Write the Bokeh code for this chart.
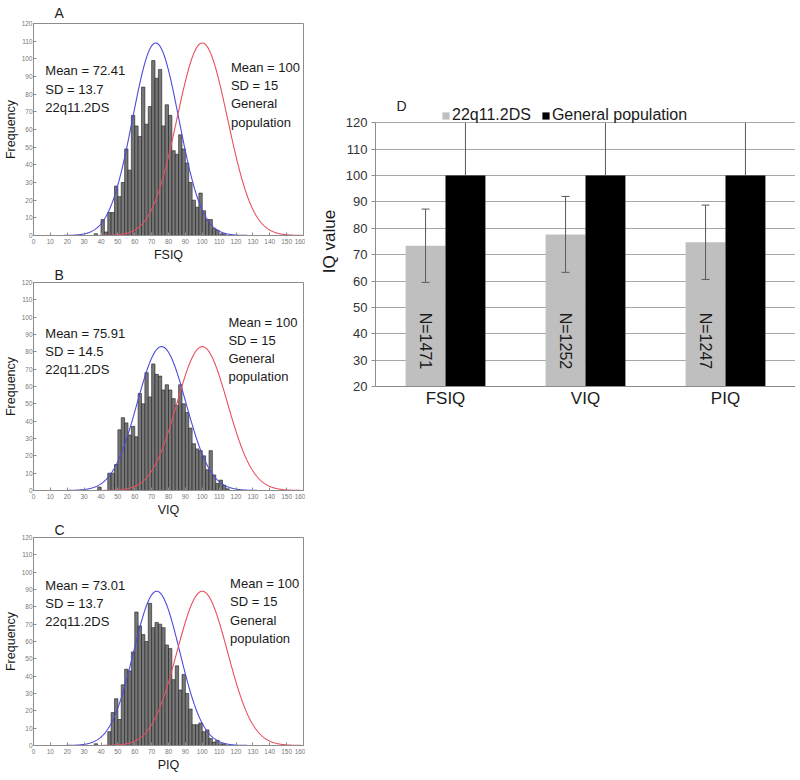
import math
import numpy as np
from bokeh.plotting import figure
from bokeh.layouts import row, column
from bokeh.models import Range1d, FactorRange, Label, Legend, LegendItem, FixedTicker, ColumnDataSource
from bokeh.embed import file_html
from bokeh.resources import INLINE
from bokeh.core.properties import value

FONT = "Liberation Sans"

# ---------------- histogram data (bins of width 2) ----------------
bin_width = 2
bin_starts = [34, 36, 38, 40, 42, 44, 46, 48, 50, 52, 54, 56, 58, 60, 62, 64, 66, 68, 70, 72,
              74, 76, 78, 80, 82, 84, 86, 88, 90, 92, 94, 96, 98, 100, 102, 104, 106, 108, 110, 112, 114]
fsiq_counts = [0, 1, 0, 9, 2, 13, 13, 28, 22, 30, 49, 37, 68, 62, 56, 84, 63, 73, 99, 89,
               94, 62, 74, 68, 48, 46, 57, 49, 41, 30, 20, 16, 24, 14, 9, 9, 4, 3, 1, 1, 0]
viq_counts = [0, 0, 2, 0, 0, 10, 10, 15, 35, 42, 39, 32, 37, 31, 56, 50, 68, 54, 73, 67,
              66, 58, 61, 58, 53, 49, 61, 50, 45, 36, 27, 24, 23, 20, 12, 23, 9, 4, 6, 3, 1]
piq_counts = [0, 1, 0, 0, 0, 8, 19, 27, 15, 35, 44, 43, 54, 77, 69, 64, 60, 82, 68, 71,
              70, 68, 58, 56, 38, 46, 32, 41, 30, 21, 12, 12, 13, 8, 9, 4, 2, 3, 1, 1, 0]

panel_letters = ["A", "B", "C"]
panel_xlabels = ["FSIQ", "VIQ", "PIQ"]
ds_means_hist = [72.41, 75.91, 73.01]
ds_sds_hist = [13.7, 14.5, 13.7]
curve_peaks = [109, 83, 89]
gen_mean = 100
gen_sd = 15
left_texts = ["Mean = 72.41\nSD = 13.7\n22q11.2DS",
              "Mean = 75.91\nSD = 14.5\n22q11.2DS",
              "Mean = 73.01\nSD = 13.7\n22q11.2DS"]
right_text = "Mean = 100\nSD = 15\nGeneral\npopulation"

hist_xticks = list(range(0, 161, 10))
hist_yticks = list(range(0, 121, 10))

# ---------------- bar chart data (panel D) ----------------
cats = ["FSIQ", "VIQ", "PIQ"]
ds_bar_means = [73.4, 77.7, 74.7]
ds_bar_err = [13.9, 14.4, 14.1]
gen_bar_means = [100, 100, 100]
gen_bar_err = [20, 20, 20]
n_labels = ["N=1471", "N=1252", "N=1247"]
d_yticks = list(range(20, 121, 10))
d_axis_min, d_axis_max = 20, 120

BLUE = "#4b4bdc"
RED = "#e8505e"
AXIS_GREY = "#8c8c8c"


def make_hist(i, top_border, title_standoff, bottom_border, frame_h, left_pos, right_pos):
    p = figure(frame_width=270, frame_height=frame_h,
               min_border_left=28, min_border_right=2,
               min_border_top=top_border, min_border_bottom=bottom_border,
               x_range=Range1d(0, 160), y_range=Range1d(0, 120),
               output_backend="svg", toolbar_location=None, title=panel_letters[i])
    p.title.text_font = FONT
    p.title.text_font_size = "14px"
    p.title.text_font_style = "normal"
    p.title.text_color = "#222222"
    p.title.align = "left"
    p.title.offset = 21
    p.title.standoff = title_standoff
    p.grid.visible = False
    p.outline_line_color = AXIS_GREY
    p.background_fill_color = "white"
    p.border_fill_color = "white"
    for ax in (p.xaxis[0], p.yaxis[0]):
        ax.axis_line_color = AXIS_GREY
        ax.major_tick_line_color = AXIS_GREY
        ax.major_tick_in = 3
        ax.major_tick_out = 0
        ax.minor_tick_line_color = None
        ax.major_label_text_font = FONT
        ax.major_label_text_font_size = "6.5px"
        ax.major_label_text_color = "#777777"
        ax.major_label_standoff = 1
        ax.axis_label_text_font = FONT
        ax.axis_label_text_font_style = "normal"
        ax.axis_label_text_font_size = "12.5px"
        ax.axis_label_text_color = "#1a1a1a"
        ax.axis_label_standoff = 1
    p.xaxis.major_label_standoff = 3
    p.xaxis.ticker = FixedTicker(ticks=hist_xticks)
    p.yaxis.ticker = FixedTicker(ticks=hist_yticks)
    p.xaxis.axis_label = panel_xlabels[i]
    p.yaxis.axis_label = "Frequency"

    counts = [fsiq_counts, viq_counts, piq_counts][i]
    rights = [b + bin_width for b in bin_starts]
    p.quad(left=bin_starts, right=rights, bottom=0, top=counts,
           fill_color="#777777", line_color="#1e1e1e", line_width=0.6)

    xs = np.linspace(0, 160, 641)
    m, s, pk = ds_means_hist[i], ds_sds_hist[i], curve_peaks[i]
    p.line(xs, pk * np.exp(-0.5 * ((xs - m) / s) ** 2), line_color=BLUE, line_width=1.1)
    p.line(xs, pk * np.exp(-0.5 * ((xs - gen_mean) / gen_sd) ** 2), line_color=RED, line_width=1.1)

    for txt, (tx, ty) in ((left_texts[i], left_pos), (right_text, right_pos)):
        p.add_layout(Label(x=tx, y=ty, text=txt, text_align="left", text_baseline="top",
                           text_font=FONT, text_font_size="13px", text_color="#1a1a1a",
                           text_line_height=1.22))
    return p


pA = make_hist(0, 22, 5, 26, 212, (7, 97.5), (117, 99.5))
pB = make_hist(1, 17, 0, 26, 208, (7, 95), (115.5, 101.5))
pC = make_hist(2, 17, 0, 24, 208, (7, 96.8), (116.5, 97.8))

# ---------------- panel D ----------------
bar_w = 0.285
src = ColumnDataSource(dict(
    x_ds=[(c, -bar_w / 2) for c in cats],
    x_gen=[(c, bar_w / 2) for c in cats],
    ds_mean=ds_bar_means,
    gen_mean=gen_bar_means,
    ds_up=[m + e for m, e in zip(ds_bar_means, ds_bar_err)],
    ds_lo=[m - e for m, e in zip(ds_bar_means, ds_bar_err)],
    gen_up=[m + e for m, e in zip(gen_bar_means, gen_bar_err)],
    nlab=n_labels,
))

# the frame reaches a little above the 120 line so that the legend and panel letter sit inside it
pD = figure(frame_width=420, frame_height=290,
            min_border_left=70, min_border_right=0, min_border_top=96, min_border_bottom=30,
            x_range=FactorRange(factors=cats, range_padding=0), y_range=Range1d(d_axis_min, 130),
            output_backend="svg", toolbar_location=None)
pD.outline_line_color = None
pD.xgrid.visible = False
pD.ygrid.grid_line_color = "#a6a6a6"
pD.ygrid.grid_line_width = 1
pD.yaxis.ticker = FixedTicker(ticks=d_yticks)
pD.yaxis.bounds = (d_axis_min, d_axis_max)
pD.yaxis.axis_label = "IQ value"
pD.yaxis.axis_line_color = AXIS_GREY
pD.yaxis.major_tick_line_color = AXIS_GREY
pD.yaxis.major_tick_out = 4
pD.yaxis.major_tick_in = 0
pD.yaxis.minor_tick_line_color = None
pD.yaxis.major_label_text_font = FONT
pD.yaxis.major_label_text_font_size = "13px"
pD.yaxis.major_label_text_color = "#333333"
pD.yaxis.major_label_standoff = 4
pD.yaxis.axis_label_text_font = FONT
pD.yaxis.axis_label_text_font_style = "normal"
pD.yaxis.axis_label_text_font_size = "17px"
pD.yaxis.axis_label_text_color = "#1a1a1a"
pD.yaxis.axis_label_standoff = 4
pD.xaxis.axis_line_color = AXIS_GREY
pD.xaxis.major_tick_line_color = None
pD.xaxis.major_tick_out = 0
pD.xaxis.major_tick_in = 0
pD.xaxis.major_label_text_font = FONT
pD.xaxis.major_label_text_font_size = "17px"
pD.xaxis.major_label_text_color = "#1a1a1a"
pD.xaxis.major_label_standoff = 2

r_ds = pD.vbar(x="x_ds", top="ds_mean", bottom=0, width=bar_w, source=src,
               fill_color="#bfbfbf", line_color=None)
r_gen = pD.vbar(x="x_gen", top="gen_mean", bottom=0, width=bar_w, source=src,
                fill_color="#000000", line_color=None)

EB = "#5a5a5a"
pD.segment(x0="x_ds", x1="x_ds", y0="ds_lo", y1="ds_up", source=src, line_color=EB, line_width=1)
pD.scatter(x="x_ds", y="ds_up", source=src, marker="dash", size=8, line_color=EB, line_width=1)
pD.scatter(x="x_ds", y="ds_lo", source=src, marker="dash", size=8, line_color=EB, line_width=1)
pD.segment(x0="x_gen", x1="x_gen", y0="gen_mean", y1="gen_up", source=src, line_color=EB, line_width=1)

pD.text(x="x_ds", y=48, text="nlab", source=src, angle=-math.pi / 2,
        text_align="left", text_baseline="middle",
        text_font=value(FONT), text_font_size="16px", text_color="#1a1a1a")

pD.add_layout(Label(x=0.15, y=126.4, text="D", text_align="left", text_baseline="middle",
                    text_font=FONT, text_font_size="14px", text_color="#222222"))

legend = Legend(items=[LegendItem(label="22q11.2DS", renderers=[r_ds]),
                       LegendItem(label="General population", renderers=[r_gen])],
                orientation="horizontal", location=(66, 262),
                glyph_width=9, glyph_height=9, label_standoff=2, spacing=10,
                padding=0, margin=0, border_line_color=None, background_fill_alpha=0,
                label_text_font=FONT, label_text_font_size="16px", label_text_color="#1a1a1a")
pD.add_layout(legend, "center")

layout = row(column(pA, pB, pC), pD)
open("out.html", "w").write(file_html(layout, INLINE))
